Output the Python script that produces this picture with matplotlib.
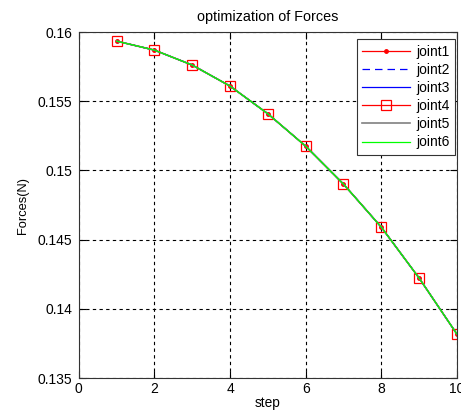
import matplotlib
matplotlib.use("Agg")
import matplotlib.pyplot as plt
from matplotlib.ticker import FuncFormatter

plt.rcParams['font.family'] = ['Liberation Sans', 'DejaVu Sans']

steps = [1, 2, 3, 4, 5, 6, 7, 8, 9, 10]
forces = [0.15935, 0.1587, 0.15762, 0.1561, 0.1541, 0.15176, 0.14902, 0.14591, 0.14223, 0.13818]
labels = ['joint1', 'joint2', 'joint3', 'joint4', 'joint5', 'joint6']

fig = plt.figure(figsize=(4.61, 4.12), dpi=100)
ax = fig.add_axes([0.171, 0.0825, 0.82, 0.8395])

# all joints give the same forces, drawn on top of each other
ax.plot(steps, forces, color='red', marker='.', markersize=5, lw=0.9, label=labels[0])
ax.plot(steps, forces, color='blue', ls=(0, (6, 4)), lw=0.9, label=labels[1])
ax.plot(steps, forces, color='blue', lw=0.9, label=labels[2])
ax.plot(steps, forces, color='red', marker='s', markersize=7, mfc='none', mew=0.9, lw=0.9, label=labels[3])
ax.plot(steps, forces, color='gray', lw=1.2, label=labels[4])
ax.plot(steps, forces, color='lime', lw=0.9, label=labels[5])

ax.set_xlim(0, 10)
ax.set_ylim(0.135, 0.16)
ax.set_xticks(range(0, 11, 2))
ax.set_yticks([0.135, 0.14, 0.145, 0.15, 0.155, 0.16])
ax.yaxis.set_major_formatter(FuncFormatter(lambda v, p: '%g' % round(v, 3)))
ax.grid(True, color='black', ls=(0, (3, 3)), lw=0.8)
ax.tick_params(direction='in', top=True, right=True, labelsize=10, length=5, pad=5)
ax.tick_params(axis='x', pad=3)
for s in ax.spines.values():
    s.set_linewidth(0.8)
    s.set_color('#333333')

ax.set_title('optimization of Forces', fontsize=10.4, pad=8)
ax.set_xlabel('step', fontsize=9.9, labelpad=0)
ax.set_ylabel('Forces(N)', fontsize=9.3, labelpad=6)

leg = ax.legend(loc='upper right', bbox_to_anchor=(0.995, 0.98), borderaxespad=0,
                fontsize=10, fancybox=False, framealpha=1, edgecolor='#333333',
                handlelength=3.4, handletextpad=0.45, borderpad=0.4, labelspacing=0.3)
leg.get_frame().set_linewidth(0.8)

fig.savefig('out.png', dpi=100)
